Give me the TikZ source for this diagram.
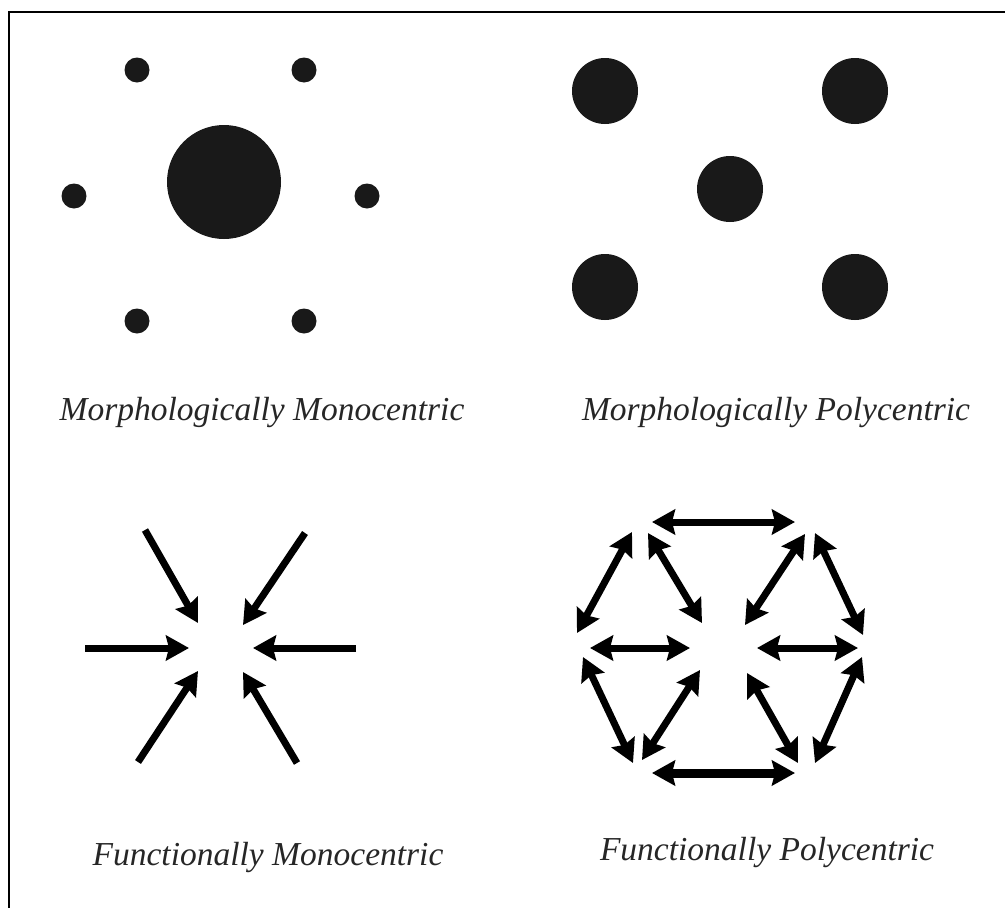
\documentclass[tikz,border=0pt]{standalone}
\usepackage{fontspec}
\setmainfont{Liberation Serif}
\usetikzlibrary{arrows.meta}
\begin{document}
\begin{tikzpicture}[x=1pt,y=-1pt,
  dot/.style={circle,fill=black!90,inner sep=0pt,minimum size=#1},
  lbl/.style={font=\fontsize{33.5}{38}\selectfont\itshape,text=black!85,inner sep=0pt},
  headtip/.style={Stealth[length=23pt,width=25pt,inset=3pt]},
  inarrow/.style={line width=7pt,-{Stealth[length=23pt,width=25pt,inset=3pt]}},
  biarrow/.style={line width=7pt,{Stealth[length=23pt,width=25pt,inset=3pt]}-{Stealth[length=23pt,width=25pt,inset=3pt]}}
]
\useasboundingbox (0,0) rectangle (1005,908);
% frame (top and left edges)
\coordinate (f0) at (1005,12);
\coordinate (f1) at (9,12);
\coordinate (f2) at (9,908);
\draw[line width=2.5pt] (f0) -- (f1) -- (f2);

% Morphologically monocentric
\node[dot=114pt] (mc) at (224,182) {};
\node[dot=25pt] (m1) at (137,70) {};
\node[dot=25pt] (m2) at (304,70) {};
\node[dot=25pt] (m3) at (74,196) {};
\node[dot=25pt] (m4) at (367,196) {};
\node[dot=25pt] (m5) at (137,321) {};
\node[dot=25pt] (m6) at (304,321) {};
\node[lbl] (l1) at (262,412) {Morphologically Monocentric};

% Morphologically polycentric
\node[dot=66pt] (p1) at (605,91) {};
\node[dot=66pt] (p2) at (855,91) {};
\node[dot=66pt] (p3) at (730,189) {};
\node[dot=66pt] (p4) at (605,287) {};
\node[dot=66pt] (p5) at (855,287) {};
\node[lbl] (l2) at (776,412) {Morphologically Polycentric};

% Functionally monocentric
\coordinate (a1s) at (145,530); \coordinate (a1e) at (198,623);
\coordinate (a2s) at (305,533); \coordinate (a2e) at (243,625);
\coordinate (a3s) at (85,648);  \coordinate (a3e) at (189,648);
\coordinate (a4s) at (356,648); \coordinate (a4e) at (253,648);
\coordinate (a5s) at (138,762); \coordinate (a5e) at (198,671);
\coordinate (a6s) at (297,763); \coordinate (a6e) at (243,672);
\foreach \i in {1,...,6} \draw[inarrow] (a\i s) -- (a\i e);
\node[lbl] (l3) at (268,857) {Functionally Monocentric};

% Functionally polycentric
\coordinate (b1s) at (652,522); \coordinate (b1e) at (795,522);
\coordinate (b2s) at (632,532); \coordinate (b2e) at (577,633);
\coordinate (b3s) at (648,533); \coordinate (b3e) at (702,623);
\coordinate (b4s) at (805,534); \coordinate (b4e) at (745,625);
\coordinate (b5s) at (815,533); \coordinate (b5e) at (863,635);
\coordinate (b6s) at (590,648); \coordinate (b6e) at (690,648);
\coordinate (b7s) at (757,648); \coordinate (b7e) at (858,648);
\coordinate (b8s) at (583,657); \coordinate (b8e) at (633,763);
\coordinate (b9s) at (700,670); \coordinate (b9e) at (642,760);
\coordinate (b10s) at (747,673); \coordinate (b10e) at (798,763);
\coordinate (b11s) at (862,657); \coordinate (b11e) at (815,763);
\coordinate (b12s) at (652,773); \coordinate (b12e) at (795,773);
\foreach \i in {1,...,11} \draw[biarrow] (b\i s) -- (b\i e);
\draw[biarrow,line width=9pt] (b12s) -- (b12e);
\node[lbl] (l4) at (767,852) {Functionally Polycentric};
\end{tikzpicture}
\end{document}
